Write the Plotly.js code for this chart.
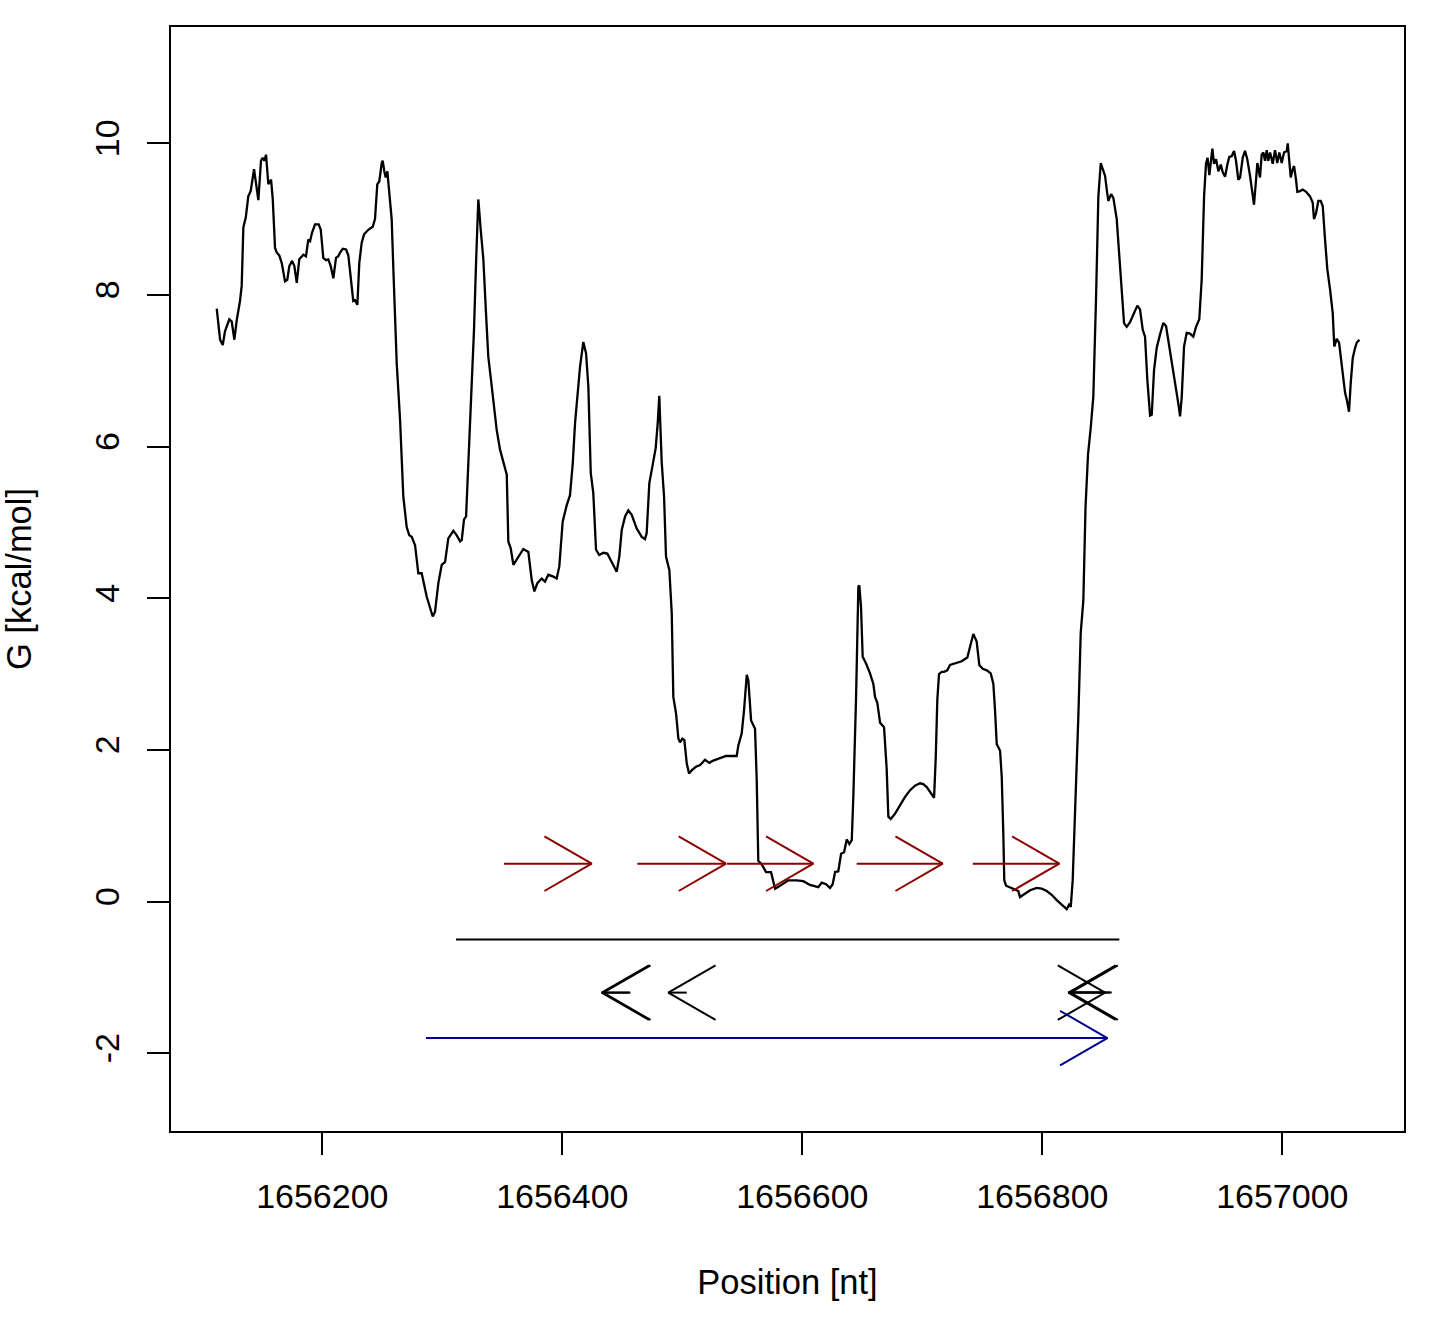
<!DOCTYPE html>
<html>
<head>
<meta charset="utf-8">
<script src="https://cdn.plot.ly/plotly-3.0.1.min.js"></script>
<style>
  body { margin: 0; background: #fff; }
  #myDiv { width: 1442px; height: 1322px; }
</style>
</head>
<body>
<div id="myDiv"></div>
<script>
// free energy profile along the sequence
var position = [
  1656112.0, 1656114.8, 1656117.0, 1656118.9, 1656122.5, 1656124.5, 1656126.7, 1656128.7, 1656131.4, 1656132.8,
  1656134.2, 1656136.2, 1656138.3, 1656140.3, 1656143.1, 1656144.8, 1656146.7, 1656148.9, 1656150.3, 1656151.7,
  1656153.1, 1656155.0, 1656157.3, 1656158.7, 1656160.6, 1656162.0, 1656164.2, 1656166.2, 1656168.9, 1656170.8,
  1656172.5, 1656174.8, 1656176.7, 1656178.7, 1656180.8, 1656184.2, 1656186.4, 1656188.3, 1656189.8, 1656191.4,
  1656193.9, 1656197.0, 1656198.7, 1656200.8, 1656203.1, 1656205.0, 1656207.0, 1656209.2, 1656211.4, 1656213.3,
  1656214.8, 1656217.0, 1656219.8, 1656221.7, 1656223.7, 1656225.8, 1656227.3, 1656229.2, 1656230.8, 1656232.8,
  1656234.8, 1656238.3, 1656242.0, 1656243.9, 1656245.8, 1656247.5, 1656249.5, 1656250.3, 1656251.7, 1656252.8,
  1656254.2, 1656256.4, 1656257.8, 1656259.2, 1656262.0, 1656264.8, 1656267.5, 1656270.3, 1656272.5, 1656274.5,
  1656277.3, 1656280.0, 1656282.8, 1656287.0, 1656289.8, 1656292.0, 1656293.9, 1656296.7, 1656299.5, 1656302.3,
  1656305.0, 1656309.2, 1656312.0, 1656314.8, 1656316.2, 1656318.1, 1656319.8, 1656321.7, 1656324.5, 1656326.4,
  1656328.1, 1656330.0, 1656332.0, 1656334.2, 1656336.4, 1656338.3, 1656341.2, 1656343.1, 1656345.3, 1656348.1,
  1656352.3, 1656353.7, 1656355.0, 1656357.0, 1656359.2, 1656363.3, 1656367.5, 1656371.7, 1656374.5, 1656376.7,
  1656379.2, 1656382.8, 1656385.6, 1656388.3, 1656392.0, 1656395.3, 1656397.5, 1656400.3, 1656403.7, 1656406.4,
  1656408.7, 1656410.6, 1656412.5, 1656414.8, 1656417.5, 1656419.8, 1656421.7, 1656423.7, 1656425.8, 1656428.1,
  1656430.8, 1656434.2, 1656437.5, 1656440.3, 1656442.5, 1656445.3, 1656447.5, 1656449.5, 1656452.3, 1656455.0,
  1656457.8, 1656462.0, 1656466.2, 1656468.9, 1656470.3, 1656472.5, 1656475.3, 1656477.8, 1656479.5, 1656480.8,
  1656482.8, 1656484.8, 1656486.4, 1656489.2, 1656491.2, 1656492.5, 1656494.8, 1656496.7, 1656498.1, 1656500.0,
  1656501.7, 1656503.7, 1656505.6, 1656507.8, 1656511.4, 1656514.8, 1656518.9, 1656522.5, 1656525.8, 1656531.4,
  1656536.4, 1656541.2, 1656545.3, 1656546.7, 1656549.5, 1656551.4, 1656553.7, 1656555.0, 1656557.3, 1656560.6,
  1656562.0, 1656563.3, 1656566.2, 1656569.8, 1656573.9, 1656575.3, 1656577.3, 1656581.4, 1656588.3, 1656595.3,
  1656600.8, 1656606.4, 1656613.3, 1656616.2, 1656619.8, 1656623.1, 1656625.3, 1656627.3, 1656630.0, 1656632.3,
  1656634.8, 1656637.0, 1656639.2, 1656641.2, 1656642.5, 1656644.8, 1656646.7, 1656647.5, 1656648.9, 1656650.3,
  1656653.1, 1656656.4, 1656659.2, 1656660.6, 1656662.5, 1656664.8, 1656668.1, 1656670.3, 1656671.7, 1656673.7,
  1656677.3, 1656681.4, 1656685.6, 1656689.8, 1656693.9, 1656698.1, 1656700.8, 1656703.7, 1656706.4, 1656709.8,
  1656711.2, 1656712.5, 1656713.9, 1656716.2, 1656718.1, 1656720.8, 1656723.1, 1656728.1, 1656732.8, 1656737.5,
  1656739.8, 1656742.5, 1656745.3, 1656747.5, 1656750.3, 1656753.7, 1656757.0, 1656759.2, 1656760.6, 1656762.0,
  1656764.8, 1656766.2, 1656767.5, 1656768.3, 1656769.8, 1656773.1, 1656775.8, 1656780.0, 1656781.4, 1656785.6,
  1656789.8, 1656795.3, 1656799.5, 1656803.7, 1656807.8, 1656812.0, 1656816.2, 1656820.3, 1656822.3, 1656823.7,
  1656825.3, 1656827.3, 1656830.0, 1656832.0, 1656834.2, 1656836.0, 1656838.1, 1656840.3, 1656842.5, 1656844.8,
  1656846.7, 1656848.7, 1656850.3, 1656852.3, 1656853.7, 1656855.0, 1656857.3, 1656859.2, 1656862.0, 1656864.2,
  1656866.2, 1656868.1, 1656870.3, 1656873.1, 1656875.8, 1656879.2, 1656881.4, 1656883.7, 1656885.6, 1656887.5,
  1656889.8, 1656891.2, 1656893.1, 1656895.3, 1656898.1, 1656900.8, 1656903.1, 1656905.0, 1656907.8, 1656910.6,
  1656913.3, 1656914.8, 1656916.2, 1656918.1, 1656920.3, 1656923.1, 1656925.8, 1656928.1, 1656930.8, 1656932.8,
  1656934.8, 1656936.4, 1656937.7, 1656939.2, 1656940.6, 1656941.7, 1656943.1, 1656944.8, 1656946.7, 1656948.7,
  1656950.3, 1656952.3, 1656954.2, 1656955.8, 1656957.8, 1656959.8, 1656961.4, 1656963.3, 1656964.8, 1656967.0,
  1656968.9, 1656970.8, 1656973.1, 1656975.3, 1656976.4, 1656978.1, 1656979.2, 1656981.4, 1656982.8, 1656984.2,
  1656985.6, 1656987.0, 1656988.3, 1656989.8, 1656992.0, 1656993.9, 1656995.8, 1656997.5, 1656999.5, 1657001.4,
  1657003.7, 1657004.5, 1657005.8, 1657007.0, 1657008.7, 1657009.8, 1657011.4, 1657012.5, 1657014.8, 1657017.0,
  1657019.8, 1657023.1, 1657025.3, 1657026.4, 1657028.1, 1657030.0, 1657032.0, 1657033.7, 1657035.6, 1657037.5,
  1657039.8, 1657042.0, 1657043.3, 1657045.3, 1657047.3, 1657049.5, 1657052.3, 1657053.7, 1657055.6, 1657057.0,
  1657058.7, 1657060.6, 1657062.0, 1657064.2
];
var energy = [
  7.82, 7.41, 7.34, 7.52, 7.68, 7.65, 7.41, 7.67, 7.92, 8.12,
  8.89, 9.02, 9.30, 9.37, 9.66, 9.48, 9.25, 9.77, 9.81, 9.77,
  9.85, 9.46, 9.52, 9.26, 8.62, 8.56, 8.52, 8.42, 8.18, 8.20,
  8.38, 8.45, 8.38, 8.16, 8.47, 8.53, 8.51, 8.73, 8.71, 8.82,
  8.93, 8.93, 8.86, 8.49, 8.46, 8.47, 8.38, 8.22, 8.49, 8.51,
  8.56, 8.61, 8.60, 8.52, 8.25, 7.92, 7.93, 7.87, 8.42, 8.69,
  8.80, 8.86, 8.90, 9.00, 9.46, 9.50, 9.74, 9.77, 9.63, 9.55,
  9.63, 9.17, 9.00, 8.34, 7.10, 6.35, 5.34, 4.94, 4.83, 4.81,
  4.70, 4.33, 4.33, 4.02, 3.87, 3.76, 3.82, 4.20, 4.44, 4.48,
  4.79, 4.89, 4.83, 4.75, 4.77, 5.04, 5.08, 5.78, 6.66, 7.54,
  8.42, 9.26, 8.86, 8.47, 7.76, 7.19, 6.79, 6.49, 6.22, 5.96,
  5.69, 5.63, 4.75, 4.66, 4.44, 4.55, 4.65, 4.61, 4.24, 4.09,
  4.20, 4.26, 4.22, 4.31, 4.29, 4.26, 4.42, 5.01, 5.23, 5.36,
  5.78, 6.31, 6.66, 7.06, 7.38, 7.23, 6.79, 5.65, 5.39, 4.64,
  4.57, 4.60, 4.59, 4.50, 4.44, 4.35, 4.55, 4.90, 5.08, 5.16,
  5.10, 4.92, 4.81, 4.78, 4.86, 5.52, 5.76, 5.98, 6.31, 6.67,
  5.80, 5.34, 4.55, 4.37, 3.80, 2.70, 2.48, 2.15, 2.10, 2.15,
  2.13, 1.82, 1.69, 1.73, 1.78, 1.80, 1.87, 1.83, 1.86, 1.89,
  1.92, 1.92, 1.92, 2.06, 2.22, 2.52, 2.99, 2.92, 2.39, 2.28,
  1.60, 0.54, 0.49, 0.39, 0.39, 0.30, 0.17, 0.21, 0.28, 0.28,
  0.27, 0.22, 0.19, 0.25, 0.23, 0.18, 0.23, 0.39, 0.40, 0.63,
  0.65, 0.82, 0.76, 0.81, 1.38, 2.70, 4.15, 4.17, 3.89, 3.23,
  3.14, 3.01, 2.87, 2.70, 2.62, 2.36, 2.30, 1.75, 1.12, 1.09,
  1.16, 1.27, 1.38, 1.47, 1.53, 1.56, 1.55, 1.51, 1.44, 1.37,
  1.91, 2.66, 3.00, 3.03, 3.03, 3.05, 3.12, 3.15, 3.17, 3.22,
  3.36, 3.53, 3.43, 3.12, 3.07, 3.05, 3.01, 2.87, 2.52, 2.08,
  1.99, 1.64, 0.89, 0.28, 0.21, 0.19, 0.17, 0.14, 0.06, 0.10,
  0.15, 0.18, 0.17, 0.14, 0.09, 0.02, -0.04, -0.10, -0.04, -0.07,
  0.28, 1.16, 2.43, 3.54, 3.98, 5.20, 5.90, 6.24, 6.66, 7.98,
  9.30, 9.74, 9.66, 9.57, 9.39, 9.24, 9.33, 9.28, 9.00, 8.51,
  7.98, 7.63, 7.58, 7.64, 7.74, 7.86, 7.81, 7.54, 7.45, 6.88,
  6.41, 6.42, 7.01, 7.30, 7.48, 7.63, 7.59, 7.41, 7.10, 6.84,
  6.57, 6.40, 6.66, 7.32, 7.50, 7.49, 7.45, 7.58, 7.68, 8.20,
  9.30, 9.73, 9.81, 9.58, 9.77, 9.93, 9.73, 9.79, 9.63, 9.72,
  9.62, 9.56, 9.72, 9.82, 9.83, 9.90, 9.77, 9.52, 9.55, 9.81,
  9.90, 9.79, 9.57, 9.26, 9.19, 9.52, 9.74, 9.55, 9.85, 9.88,
  9.77, 9.91, 9.77, 9.88, 9.73, 9.91, 9.74, 9.88, 9.74, 9.88,
  9.90, 10.00, 9.74, 9.55, 9.66, 9.70, 9.52, 9.36, 9.37, 9.39,
  9.36, 9.30, 9.22, 9.00, 9.08, 9.24, 9.24, 9.17, 8.73, 8.34,
  8.07, 7.76, 7.32, 7.42, 7.37, 7.10, 6.71, 6.62, 6.46, 6.84,
  7.17, 7.30, 7.37, 7.41
];

// features drawn as arrows (start -> end, end carries the head)
var fwdStart = [1656351.4, 1656462.5, 1656537.3, 1656645.3, 1656742.0];
var fwdEnd   = [1656424.5, 1656536.4, 1656609.2, 1656717.0, 1656814.2];
var fwdLevel = 0.5;

var spanStart = [1656311.4];
var spanEnd   = [1656864.2];
var spanLevel = -0.5;

var revStart = [1656455.8, 1656456.8, 1656503.7, 1656857.8, 1656856.4, 1656821.7];
var revEnd   = [1656432.8, 1656434.1, 1656488.3, 1656821.7, 1656823.5, 1656852.3];
var revLevel = -1.2;

var blueStart = [1656286.4];
var blueEnd   = [1656854.2];
var blueLevel = -1.8;

var xTicks = [1656200, 1656400, 1656600, 1656800, 1657000];
var xTickText = ['1656200', '1656400', '1656600', '1656800', '1657000'];
var yTicks = [-2, 0, 2, 4, 6, 8, 10];
var yTickText = ['-2', '0', '2', '4', '6', '8', '10'];

var W = 1442, H = 1322;
var mar = {l: 171, r: 38, t: 27, b: 191, pad: 0};
var xRange = [1656073.9, 1657101.4];
var yRange = [-3.025, 11.534];

// R style open arrow heads: fixed size in pixels, 30 degrees
var pxPerX = (W - mar.l - mar.r) / (xRange[1] - xRange[0]);
var pxPerY = (H - mar.t - mar.b) / (yRange[1] - yRange[0]);
var headDx = 47.3 / pxPerX;
var headDy = 27.3 / pxPerY;

function arrowTrace(starts, ends, level, color, withHead) {
    var xs = [], ys = [];
    for (var i = 0; i < starts.length; i++) {
        xs.push(starts[i], ends[i], null);
        ys.push(level, level, null);
        if (withHead) {
            var dir = ends[i] >= starts[i] ? 1 : -1;
            var back = ends[i] - dir * headDx;
            xs.push(back, ends[i], back, null);
            ys.push(level + headDy, level, level - headDy, null);
        }
    }
    return {
        x: xs, y: ys, type: 'scatter', mode: 'lines',
        line: {color: color, width: 2}, hoverinfo: 'skip'
    };
}

var curve = {
    x: position, y: energy, type: 'scatter', mode: 'lines',
    line: {color: 'black', width: 2.3}
};

var data = [
    curve,
    arrowTrace(fwdStart, fwdEnd, fwdLevel, '#8B0000', true),
    arrowTrace(spanStart, spanEnd, spanLevel, 'black', false),
    arrowTrace(revStart, revEnd, revLevel, 'black', true),
    arrowTrace(blueStart, blueEnd, blueLevel, '#00008B', true)
];

var font = {family: 'Liberation Sans, Arial, sans-serif', size: 34, color: 'black'};

var layout = {
    width: W, height: H,
    margin: mar,
    paper_bgcolor: 'white',
    plot_bgcolor: 'white',
    showlegend: false,
    font: font,
    xaxis: {
        range: xRange,
        tickvals: xTicks, ticktext: xTickText,
        ticks: 'outside', ticklen: 22, tickwidth: 2, tickcolor: 'black',
        ticklabelstandoff: 12,
        showline: true, mirror: true, linecolor: 'black', linewidth: 2,
        showgrid: false, zeroline: false,
        tickfont: font,
        title: {text: 'Position [nt]', font: {family: font.family, size: 34.5, color: 'black'}, standoff: 56}
    },
    yaxis: {
        range: yRange,
        tickvals: yTicks, ticktext: yTickText, tickangle: -90,
        ticks: 'outside', ticklen: 22, tickwidth: 2, tickcolor: 'black',
        ticklabelstandoff: 14,
        showline: true, mirror: true, linecolor: 'black', linewidth: 2,
        showgrid: false, zeroline: false,
        tickfont: font,
        title: {text: 'G [kcal/mol]', font: {family: font.family, size: 34.5, color: 'black'}, standoff: 49}
    }
};

Plotly.newPlot('myDiv', data, layout, {staticPlot: true});
</script>
</body>
</html>
